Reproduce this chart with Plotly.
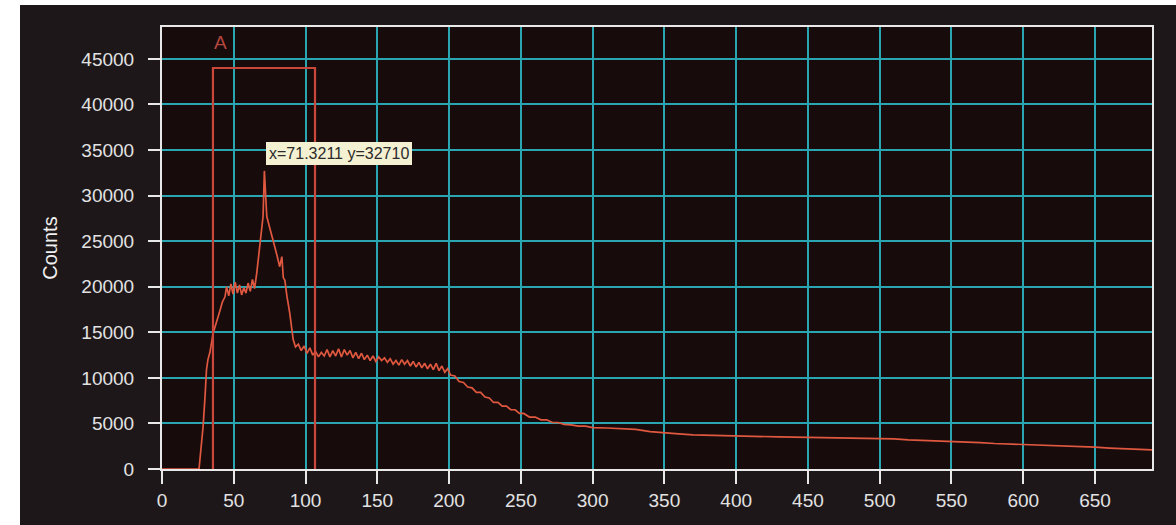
import plotly.graph_objects as go

# ---- data ----
channel = [0, 25.8, 27, 28.6, 30, 31, 32, 33.4, 35.6, 38, 40.4, 42, 43.9,
           45, 46.5, 48, 49.5, 51, 52.5, 54, 55.5, 57, 58.5, 60, 61.5, 63, 64.5,
           66, 68.3, 70.4, 71.3211, 73, 75, 77.5, 80, 82, 83.5, 84.5, 85.6, 87,
           89, 91.4, 93, 95, 97, 99, 101, 103, 105, 107, 109, 111, 113, 115, 117,
           119, 121, 123, 125, 127, 129, 131, 133, 135, 137, 139, 141, 143, 145,
           147, 149, 151, 153, 155, 157, 159, 161, 163, 165, 167, 169, 171, 173,
           175, 177, 179, 181, 183, 185, 187, 189, 191, 193, 195, 197, 199, 201,
           204, 207, 210, 213, 216, 219, 222, 225, 228, 231, 234, 237, 240, 243,
           246, 249, 252, 256, 260, 264, 268, 272, 276, 280, 285, 290, 295, 300,
           310, 320, 330, 340, 350, 360, 370, 380, 390, 400, 410, 420, 430, 440,
           450, 460, 470, 480, 490, 500, 510, 520, 530, 540, 550, 560, 570, 580,
           590, 600, 610, 620, 630, 640, 650, 660, 670, 680, 690]
counts = [0, 0, 2000, 4600, 8000, 10900, 12000, 12800, 14900, 16300, 17400,
          18300, 18900, 20000, 19000, 20300, 19200, 20500, 19300, 20200, 19100,
          19900, 19300, 20400, 19500, 20800, 19800, 21500, 24400, 27700, 32710,
          27700, 26500, 25100, 23500, 22200, 23300, 21000, 20700, 19000, 17100,
          14200, 13400, 13700, 13000, 13500, 12700, 13300, 12500, 12900, 12300,
          12800, 12400, 13100, 12300, 13000, 12400, 13200, 12300, 13100, 12500,
          13000, 12200, 12800, 12100, 12700, 12000, 12500, 11900, 12400, 11800,
          12300, 11900, 12200, 11700, 12100, 11500, 11900, 11400, 12000, 11500,
          11900, 11300, 11800, 11200, 11700, 11100, 11600, 11000, 11500, 10900,
          11600, 10800, 11300, 10600, 11000, 10300, 10200, 9600, 9500, 9000, 8900,
          8400, 8400, 7900, 7800, 7300, 7300, 6900, 6900, 6500, 6500, 6100, 6100,
          5700, 5700, 5400, 5400, 5100, 5100, 4900, 4850, 4700, 4700, 4550, 4500,
          4400, 4350, 4100, 3950, 3850, 3750, 3700, 3650, 3600, 3580, 3550, 3520,
          3500, 3480, 3460, 3450, 3420, 3400, 3380, 3300, 3200, 3150, 3050, 3000,
          2950, 2900, 2800, 2750, 2700, 2650, 2600, 2500, 2450, 2400, 2300, 2250,
          2150, 2100]

gate_name = "A"
gate_x = [35.5, 106.6]
gate_top = 44000
peak_x = 71.3211
peak_y = 32710

x_ticks = list(range(0, 651, 50))
y_ticks = list(range(0, 45001, 5000))

# ---- figure ----
W, H = 1176, 525
ML, MR, MT, MB = 162, 24, 27, 56
pw, ph = W - ML - MR, H - MT - MB

def px_x(p):
    return (p - ML) / pw

def px_y(p):
    return (H - MB - p) / ph

FONT = "Liberation Sans, Arial, sans-serif"

fig = go.Figure()
fig.add_trace(go.Scatter(x=channel, y=counts, mode="lines",
                         line=dict(color="#df583f", width=1.7),
                         showlegend=False, hoverinfo="x+y"))

shapes = [
    # dark panel
    dict(type="rect", xref="paper", yref="paper",
         x0=px_x(20), x1=px_x(W + 2), y0=px_y(H + 2), y1=px_y(5),
         fillcolor="#1e1719", line=dict(width=0), layer="below"),
    # plot area
    dict(type="rect", xref="paper", yref="paper",
         x0=0, x1=1, y0=0, y1=1,
         fillcolor="#180b0c", line=dict(width=0), layer="below"),
    # gate A
    dict(type="path", xref="x", yref="y",
         path=f"M {gate_x[0]},0 L {gate_x[0]},{gate_top} L {gate_x[1]},{gate_top} L {gate_x[1]},0",
         line=dict(color="#c9483b", width=2.2)),
]

annotations = [
    dict(x=gate_x[0] - 1.0, y=46800, xref="x", yref="y", text=gate_name,
         showarrow=False, xanchor="left", yanchor="middle",
         font=dict(family=FONT, size=19, color="#b5473d")),
    dict(x=peak_x + 1.0, y=34600, xref="x", yref="y",
         text=f"x={peak_x} y={peak_y}", showarrow=False,
         xanchor="left", yanchor="middle", bgcolor="#f4f1d3",
         borderpad=3, borderwidth=0,
         font=dict(family=FONT, size=16, color="#2a2a2a")),
]

axis_common = dict(
    showline=True, linecolor="#e8e8e8", linewidth=2, mirror=True,
    ticks="outside", tickcolor="#e8e8e8", tickwidth=2,
    showgrid=True, gridcolor="#2aa6b2", gridwidth=2,
    zeroline=False, layer="below traces", tickformat="d",
    tickfont=dict(family=FONT, size=19, color="#e2e2e2"),
)

fig.update_layout(
    width=W, height=H,
    margin=dict(l=ML, r=MR, t=MT, b=MB, autoexpand=False),
    paper_bgcolor="white",
    plot_bgcolor="rgba(0,0,0,0)",
    shapes=shapes,
    annotations=annotations,
    xaxis=dict(range=[0, 689.7], tickvals=x_ticks, ticklen=13,
               ticklabelstandoff=0, **axis_common),
    yaxis=dict(range=[0, 48500], tickvals=y_ticks, ticklen=12,
               ticklabelstandoff=10,
               title=dict(text="Counts", standoff=18,
                          font=dict(family=FONT, size=20, color="#f0f0f0")),
               **axis_common),
)

fig.write_html("out.html", config={"displayModeBar": False},
               post_script="document.body.style.margin='0';document.body.style.padding='0';")
